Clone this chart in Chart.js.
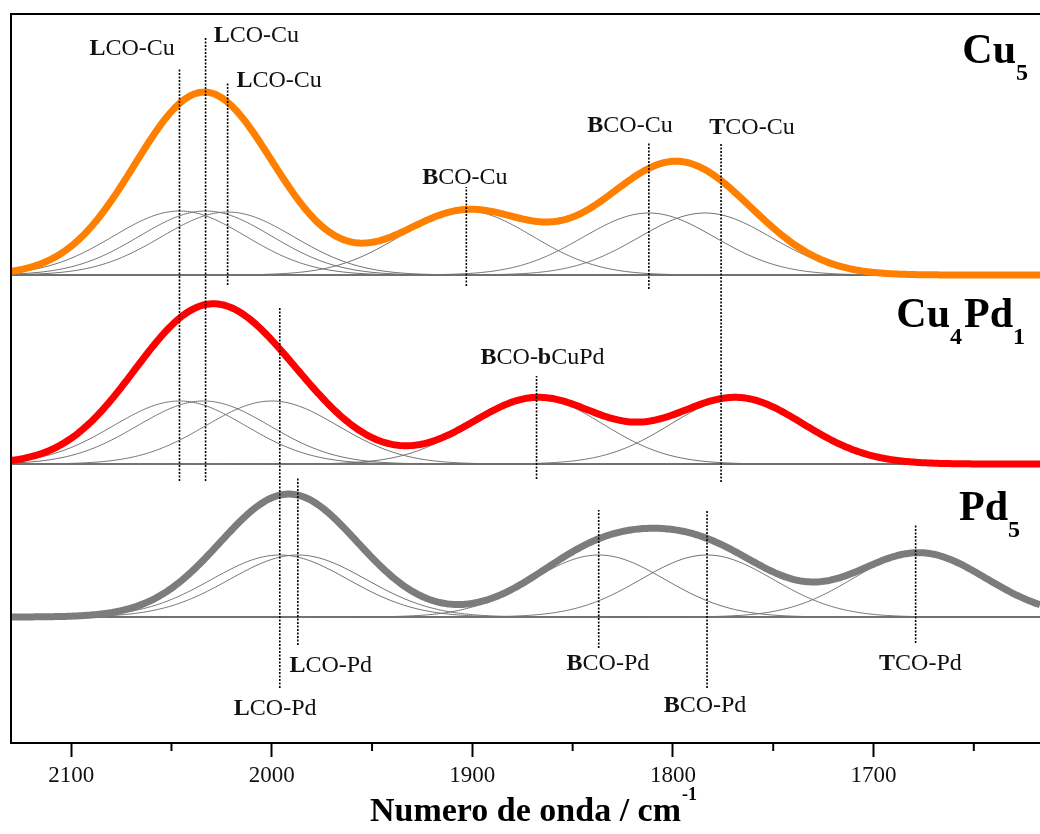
<!DOCTYPE html>
<html>
<head>
<meta charset="utf-8">
<script src="https://cdn.jsdelivr.net/npm/chart.js@4.4.1/dist/chart.umd.min.js"></script>
<style>
  html, body { margin: 0; padding: 0; background: #fff; }
</style>
</head>
<body>
<canvas id="spectra" width="1040" height="834"></canvas>
<script>
// wavenumber window (cm-1), the axis runs from high to low
const xFrom = 2130;
const xTo = 1617;
const majorTicks = [2100, 2000, 1900, 1800, 1700];
const minorTicks = [2050, 1950, 1850, 1750, 1650];

// baseline of each stacked spectrum (arb. units), Cu5 / Cu4Pd1 / Pd5
const offsets = [468, 279, 126];

// fitted bands: centre (cm-1), height, sigma (cm-1)
const cu5Centers = [2046, 2033, 2022, 1903, 1812, 1784];
const cu5Heights = [64, 64, 63, 64, 62, 62];
const cu5Widths = [33, 33, 33, 33, 33, 33];

const cu4pd1Centers = [2046, 2034, 2000, 1868, 1768];
const cu4pd1Heights = [63, 63, 63, 66, 66];
const cu4pd1Widths = [33, 33, 33, 33, 33];

const pd5Centers = [1996, 1987, 1837, 1783, 1677];
const pd5Heights = [62, 62, 62, 62, 64];
const pd5Widths = [34, 34, 33, 33, 33];

// dotted assignment lines: wavenumber and vertical extent (arb. units)
const markerX = [2046, 2033, 2022, 1903, 1812, 1776, 1868, 1996, 1987, 1837, 1783, 1679];
const markerTop = [674, 706, 661, 556, 600, 599, 367, 435, 265, 233, 233, 218];
const markerBottom = [262, 262, 458, 457, 454, 261, 264, 55, 98, 95, 55, 100];

// band labels (** marks the bold letters)
const bandLabels = [
  "**L**CO-Cu", "**L**CO-Cu", "**L**CO-Cu", "**B**CO-Cu", "**B**CO-Cu", "**T**CO-Cu",
  "**B**CO-**b**CuPd",
  "**L**CO-Pd", "**L**CO-Pd", "**B**CO-Pd", "**B**CO-Pd", "**T**CO-Pd"
];
const labelX = [2069.6, 2007.7, 1996.3, 1903.7, 1821.4, 1760.6, 1865, 1970.6, 1998.3, 1832.4, 1784, 1676.6];
const labelY = [696, 709, 664, 567, 619, 617, 387, 79, 36, 81, 39, 81];

// sample names, alternating normal / subscript pieces
const sampleNames = [["Cu", "5"], ["Cu", "4", "Pd", "1"], ["Pd", "5"]];

const xTitle = "Numero de onda / cm";
const xTitleSup = "-1";

////////////////////////////////
const serif = "'Liberation Serif', 'Times New Roman', serif";

const gauss = (w, c, h, s) => h * Math.exp(-((w - c) * (w - c)) / (2 * s * s));

// sample the band model on a 1 cm-1 grid
const grid = [];
for (let w = xTo; w <= xFrom; w += 1) grid.push(w);

const bandCurve = (c, h, s, off) => grid.map((w) => ({ x: w, y: off + gauss(w, c, h, s) }));
const sumCurve = (cs, hs, ss, off) =>
  grid.map((w) => {
    let v = off;
    cs.forEach((c, i) => { v += gauss(w, c, hs[i], ss[i]); });
    return { x: w, y: v };
  });

const spectra = [
  { centers: cu5Centers, heights: cu5Heights, widths: cu5Widths, color: "#ff8000" },
  { centers: cu4pd1Centers, heights: cu4pd1Heights, widths: cu4pd1Widths, color: "#ff0000" },
  { centers: pd5Centers, heights: pd5Heights, widths: pd5Widths, color: "#7c7c7c" },
];

const datasets = [];

markerX.forEach((mx, i) => {
  datasets.push({
    data: [{ x: mx, y: markerBottom[i] }, { x: mx, y: markerTop[i] }],
    borderColor: "#000",
    borderWidth: 1.6,
    borderDash: [2, 1.5],
    pointRadius: 0,
    order: 0,
  });
});

spectra.forEach((sp, k) => {
  datasets.push({
    data: sumCurve(sp.centers, sp.heights, sp.widths, offsets[k]),
    borderColor: sp.color,
    borderWidth: 7,
    pointRadius: 0,
    order: 1,
  });
  sp.centers.forEach((c, i) => {
    datasets.push({
      data: bandCurve(c, sp.heights[i], sp.widths[i], offsets[k]),
      borderColor: "#707070",
      borderWidth: 1,
      pointRadius: 0,
      order: 2,
    });
  });
  datasets.push({
    data: [{ x: xTo, y: offsets[k] }, { x: xFrom, y: offsets[k] }],
    borderColor: "#505050",
    borderWidth: 1.5,
    pointRadius: 0,
    order: 3,
  });
});

function drawRich(ctx, text, cx, baseline, size) {
  const parts = text.split("**");
  let total = 0;
  parts.forEach((p, i) => {
    ctx.font = (i % 2 ? "bold " : "") + size + "px " + serif;
    total += ctx.measureText(p).width;
  });
  let px = cx - total / 2;
  parts.forEach((p, i) => {
    ctx.font = (i % 2 ? "bold " : "") + size + "px " + serif;
    ctx.fillText(p, px, baseline);
    px += ctx.measureText(p).width;
  });
}

const annotate = {
  id: "annotate",
  afterDatasetsDraw(chart) {
    const { ctx, chartArea, scales } = chart;
    const x = scales.x;
    const y = scales.y;
    ctx.save();

    // frame: left and top edges (bottom is the x axis)
    ctx.strokeStyle = "#000";
    ctx.lineWidth = 2;
    ctx.beginPath();
    ctx.moveTo(chartArea.left, chartArea.bottom);
    ctx.lineTo(chartArea.left, chartArea.top);
    ctx.lineTo(chartArea.right, chartArea.top);
    ctx.stroke();

    ctx.fillStyle = "#111";
    ctx.textAlign = "left";
    ctx.textBaseline = "alphabetic";
    bandLabels.forEach((t, i) => {
      drawRich(ctx, t, x.getPixelForValue(labelX[i]), y.getPixelForValue(labelY[i]) + 8, 24);
    });

    // sample names, right aligned
    const nameBase = [63, 327, 520];
    const nameRight = [1030, 1027, 1022];
    ctx.fillStyle = "#000";
    sampleNames.forEach((pieces, k) => {
      let total = 0;
      pieces.forEach((p, i) => {
        ctx.font = "bold " + (i % 2 ? 24 : 42) + "px " + serif;
        total += ctx.measureText(p).width + (i % 2 ? 2 : 0);
      });
      let px = nameRight[k] - total;
      pieces.forEach((p, i) => {
        ctx.font = "bold " + (i % 2 ? 24 : 42) + "px " + serif;
        ctx.fillText(p, px, nameBase[k] + (i % 2 ? 17 : 0));
        px += ctx.measureText(p).width + (i % 2 ? 2 : 0);
      });
    });
    ctx.restore();
  },
  afterDraw(chart) {
    const { ctx, chartArea, scales } = chart;
    const x = scales.x;
    ctx.save();
    ctx.strokeStyle = "#000";
    ctx.lineWidth = 2;
    minorTicks.forEach((v) => {
      const px = x.getPixelForValue(v);
      ctx.beginPath();
      ctx.moveTo(px, chartArea.bottom);
      ctx.lineTo(px, chartArea.bottom + 8);
      ctx.stroke();
    });

    // axis title with superscript
    ctx.fillStyle = "#000";
    ctx.textBaseline = "alphabetic";
    ctx.font = "bold 34px " + serif;
    const w = ctx.measureText(xTitle).width;
    const cx = (chartArea.left + chartArea.right) / 2;
    ctx.fillText(xTitle, cx - w / 2, 821);
    ctx.font = "bold 18px " + serif;
    ctx.fillText(xTitleSup, cx + w / 2 + 1, 800);
    ctx.restore();
  },
};

new Chart(document.getElementById("spectra"), {
  type: "line",
  data: { datasets },
  options: {
    responsive: false,
    animation: false,
    devicePixelRatio: 1,
    parsing: false,
    layout: { padding: { left: 11, top: 14, right: 0, bottom: 0 } },
    plugins: { legend: { display: false }, tooltip: { enabled: false } },
    elements: { line: { tension: 0, fill: false } },
    scales: {
      x: {
        type: "linear",
        reverse: true,
        min: xTo,
        max: xFrom,
        afterBuildTicks: (scale) => {
          scale.ticks = majorTicks.map((v) => ({ value: v }));
        },
        afterFit: (scale) => {
          scale.height = 91;
        },
        border: { display: true, color: "#000", width: 2 },
        grid: { drawOnChartArea: false, drawTicks: true, tickLength: 14, tickWidth: 2, tickColor: "#000" },
        ticks: {
          color: "#111",
          padding: 5,
          maxRotation: 0,
          font: { family: serif, size: 23 },
          callback: (v) => String(v),
        },
      },
      y: { display: false, min: 0, max: 729 },
    },
  },
  plugins: [annotate],
});
</script>
</body>
</html>
